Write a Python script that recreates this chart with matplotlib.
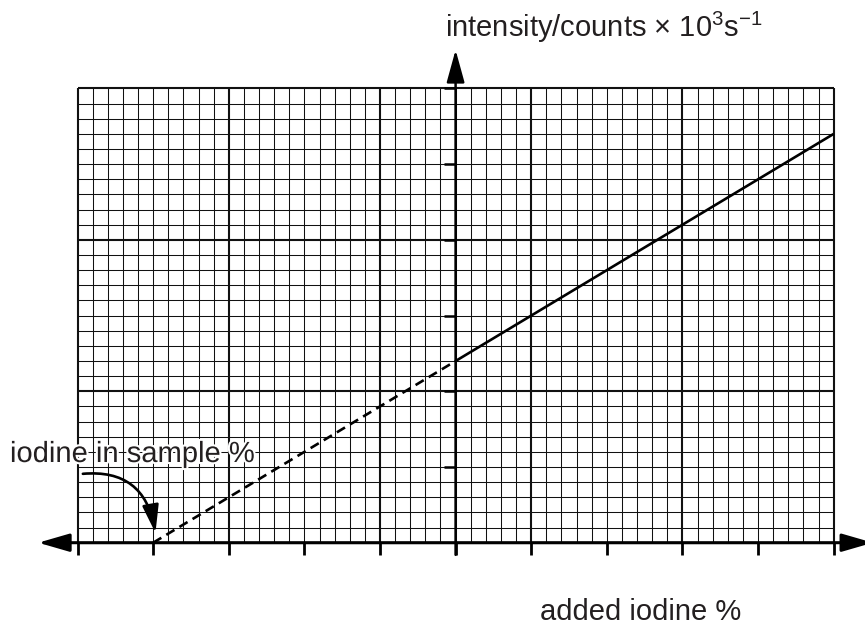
import numpy as np
import matplotlib.pyplot as plt
import matplotlib.patheffects as pe

# ==========================
# DATA
# ==========================

x_ticks = [-5, -4, -3, -2, -1, 0, 1, 2, 3, 4, 5]
y_ticks = [0, 1, 2, 3, 4, 5, 6]

minor_step = 0.2
major_step = 2

# extrapolated part (dashed) and measured part (solid)
x_extrap = [-4, 0]
y_extrap = [0, 2.4]
x_meas = [0, 5]
y_meas = [2.4, 5.4]

x_label = "added iodine %"
y_label = "intensity/counts \u00d7 10$^{3}$s$^{-1}$"
note = "iodine in sample %"

# ==========================
# STYLE
# ==========================

plt.rcParams["font.family"] = ["Liberation Sans", "DejaVu Sans"]
plt.rcParams["mathtext.fontset"] = "custom"
plt.rcParams["mathtext.rm"] = "Liberation Sans"
plt.rcParams["mathtext.it"] = "Liberation Sans"

text_col = "#231f20"

fig = plt.figure(figsize=(8.65, 6.29), dpi=100)
ax = fig.add_axes([0, 0, 1, 1])
ax.set_xlim(-6.026, 5.415)
ax.set_ylim(-1.140, 7.169)
ax.axis("off")

x0, x1 = x_ticks[0], x_ticks[-1]
y0, y1 = y_ticks[0], y_ticks[-1]

# ==========================
# GRID PAPER
# ==========================

xs = np.round(np.arange(x0, x1 + 1e-9, minor_step), 6)
ys = np.round(np.arange(y0, y1 + 1e-9, minor_step), 6)

for v in xs:
    thick = abs(((v - x0) / major_step) - round((v - x0) / major_step)) < 1e-6
    ax.vlines(v, y0, y1, colors="#111111",
              linewidth=1.5 if thick else 0.75, zorder=1)

for v in ys:
    thick = abs(((v - y0) / major_step) - round((v - y0) / major_step)) < 1e-6
    ax.hlines(v, x0, x1, colors="#111111",
              linewidth=1.5 if thick else 0.75, zorder=1)

# ==========================
# AXES WITH ARROWS
# ==========================

ax.annotate("", xy=(-5.52, 0), xytext=(5.52, 0),
            arrowprops=dict(arrowstyle="<|-|>,head_length=19,head_width=5.5",
                            color="black", lw=2.2, mutation_scale=1,
                            shrinkA=0, shrinkB=0),
            zorder=4)

ax.annotate("", xy=(0, 6.51), xytext=(0, -0.16),
            arrowprops=dict(arrowstyle="-|>,head_length=20,head_width=5.5",
                            color="black", lw=1.8, mutation_scale=1,
                            shrinkA=0, shrinkB=0),
            zorder=4)

# ticks
for t in x_ticks:
    ax.plot([t, t], [0, -0.16], color="black", lw=2.0,
            solid_capstyle="butt", zorder=4)
for t in y_ticks[1:]:
    ax.plot([-0.16, 0], [t, t], color="black", lw=1.8,
            solid_capstyle="butt", zorder=4)

# ==========================
# LINE
# ==========================

ax.plot(x_meas, y_meas, color="black", lw=1.9,
        solid_capstyle="butt", zorder=5)
ax.plot(x_extrap, y_extrap, color="black", lw=1.9,
        linestyle=(0, (3.6, 2.2)), zorder=5)

# ==========================
# LABELS
# ==========================

ax.text(-0.14, 6.68, y_label, fontsize=21, color=text_col,
        ha="left", va="baseline")

ax.text(1.116, -1.021, x_label, fontsize=21, color=text_col,
        ha="left", va="baseline")

ax.text(-5.894, 1.066, note, fontsize=21, color=text_col,
        ha="left", va="baseline", zorder=6,
        path_effects=[pe.withStroke(linewidth=3, foreground="white")])

ax.annotate("", xy=(x_extrap[0] + 0.03, 0.13), xytext=(-4.93, 0.91),
            arrowprops=dict(arrowstyle="-|>,head_length=17,head_width=5",
                            color="black", lw=1.9, mutation_scale=1,
                            shrinkA=0, shrinkB=0,
                            connectionstyle="angle3,angleA=5,angleB=-80"),
            zorder=6)

plt.savefig("out.png", dpi=100)
plt.close()
